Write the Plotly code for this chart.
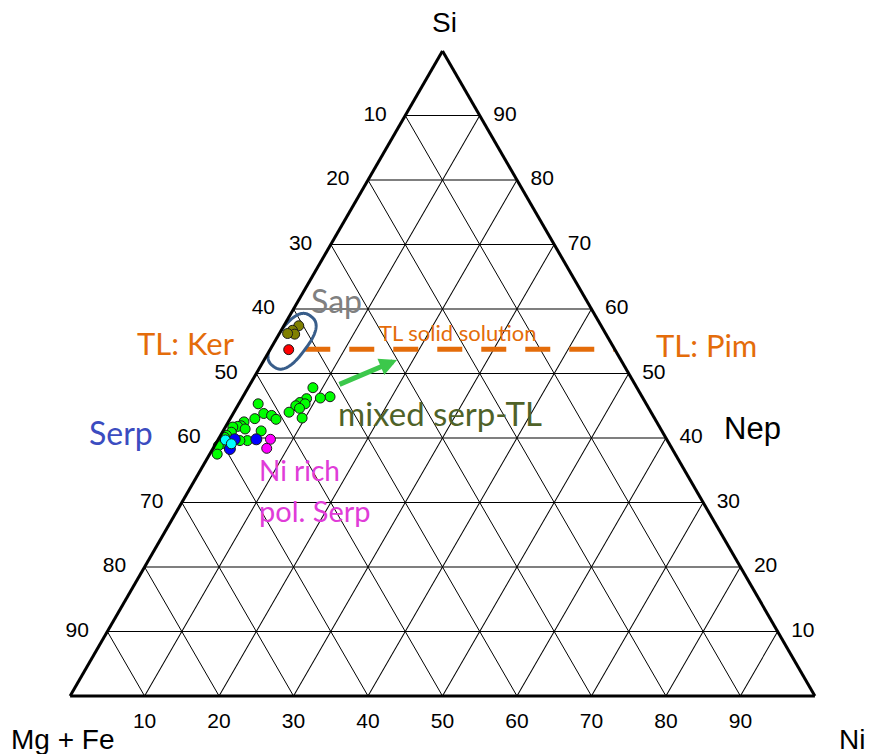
import numpy as np
import plotly.graph_objects as go

# the page body has an 8px margin, so the figure is sized to fill the 875x754 window
W, H = 867, 746
OFF = 8

# ---------------- data (atomic proportions, %; Mg+Fe = 100 - Si - Ni) ----------------
green_si = [47.8, 46.4, 46.2, 46.1, 45.5, 45.3, 45.0, 44.6, 44.0, 43.1, 45.3, 43.8, 43.5, 42.9,
            43.0, 42.5, 41.9, 41.8, 41.4, 41.7, 41.1, 40.9, 40.4, 39.6, 39.6, 39.1, 38.8, 37.5, 40.1]
green_ni = [8.7, 11.7, 10.5, 8.7, 8.1, 8.9, 7.8, 8.5, 7.4, 9.6, 2.6, 4.1, 5.3, 6.2,
            3.3, 2.1, 2.0, 1.6, 2.8, 1.0, 5.1, 1.2, 0.8, 4.0, 3.0, 0.8, 0.5, 1.0, 0.7]
magenta_si = [39.8, 38.4]
magenta_ni = [7.0, 7.2]
blue_si = [39.8, 39.8, 38.3]
blue_ni = [2.2, 5.1, 2.3]
cyan_si = [39.7, 39.1]
cyan_ni = [1.0, 2.1]
sap_si = [57.4, 56.7, 56.1, 56.2]
sap_ni = [2.0, 1.5, 2.1, 1.1]
ker_si = [53.7]
ker_ni = [2.5]

# TL solid solution line (constant Si), from Ni start to the Si-Ni edge
tl_si = 53.75
tl_ni = [4.7, 46.25]

# Sap envelope centre (Si, Ni)
sap_env_si = 55.0
sap_env_ni = 2.3

tick_vals = [10, 20, 30, 40, 50, 60, 70, 80, 90]
tick_text = ['10', '20', '30', '40', '50', '60', '70', '80', '90']


def mgfe(si, ni):
    return [100 - s - n for s, n in zip(si, ni)]


fig = go.Figure()

# dashed TL line
fig.add_trace(go.Scatterternary(
    a=[tl_si, tl_si], c=tl_ni, b=mgfe([tl_si, tl_si], tl_ni), mode='lines',
    line=dict(color='#E46C0A', width=5, dash='25px,19px'), hoverinfo='skip', cliponaxis=False))


# rounded envelope around Sap points
def envelope(si0, ni0, a, b, ang_deg, n=2.6, m=160):
    X0 = ni0 / 100 + si0 / 200
    Y0 = si0 / 100 * np.sqrt(3) / 2
    t = np.linspace(0, 2 * np.pi, m)
    c, s = np.cos(t), np.sin(t)
    u = a * np.sign(c) * np.abs(c) ** (2 / n)
    v = b * np.sign(s) * np.abs(s) ** (2 / n)
    th = np.radians(ang_deg)
    X = X0 + u * np.cos(th) - v * np.sin(th)
    Y = Y0 + u * np.sin(th) + v * np.cos(th)
    si = Y * 2 / np.sqrt(3) * 100
    ni = (X - Y / np.sqrt(3)) * 100
    return si, 100 - si - ni, ni


es, eb, ec = envelope(sap_env_si, sap_env_ni, 0.042, 0.0205, 53)
fig.add_trace(go.Scatterternary(a=es, b=eb, c=ec, mode='lines',
                                line=dict(color='#385D8A', width=3), hoverinfo='skip', cliponaxis=False))


def add_pts(si, ni, color, size):
    fig.add_trace(go.Scatterternary(
        a=si, b=mgfe(si, ni), c=ni, mode='markers', cliponaxis=False, hoverinfo='skip',
        marker=dict(color=color, size=size, line=dict(color='#1a1a1a', width=1))))


add_pts(green_si, green_ni, '#00FF00', 10)
add_pts(magenta_si, magenta_ni, '#FF00FF', 10)
add_pts(blue_si, blue_ni, '#0000FF', 11)
add_pts(cyan_si, cyan_ni, '#00FFFF', 10)
add_pts(sap_si, sap_ni, '#808000', 10)
add_pts(ker_si, ker_ni, '#FF0000', 10)

# edge tick labels (each edge reads the component of the vertex it runs toward)
AR = 'Liberation Sans, Arial'
TF = dict(family=AR, size=21, color='black')


def edge_labels(a, b, c, pos, msize):
    fig.add_trace(go.Scatterternary(
        a=a, b=b, c=c, text=tick_text, mode='markers+text', textposition=pos,
        marker=dict(size=msize, opacity=0), textfont=TF, cliponaxis=False, hoverinfo='skip'))


zeros = [0] * len(tick_vals)
comp = [100 - v for v in tick_vals]
edge_labels(comp, tick_vals, zeros, 'middle left', 28)        # Mg + Fe along left edge
edge_labels(tick_vals, zeros, comp, 'middle right', 20)       # Si along right edge
edge_labels(zeros, comp, tick_vals, 'bottom center', 24)      # Ni along bottom edge

axis_style = dict(
    tickmode='array', tickvals=tick_vals, showticklabels=False, ticks='',
    showline=True, linecolor='black', linewidth=3,
    showgrid=True, gridcolor='black', gridwidth=0.8, min=0,
    title=dict(text=''))


def P(x, y):
    return (x - OFF) / W, 1 - (y - OFF) / H


ann = []


def label(text, x, y, size, color, family='Lato', **kw):
    px, py = P(x, y)
    d = dict(text=text, x=px, y=py, xref='paper', yref='paper', showarrow=False,
             font=dict(family=family, size=size, color=color), xanchor='center', yanchor='middle')
    d.update(kw)
    ann.append(d)


label('Si', 444, 22, 28, 'black', AR)
label('Mg + Fe', 63, 739, 28, 'black', AR)
label('Ni', 852, 739, 28, 'black', AR)
label('Nep', 752, 428, 31, 'black', AR)
label('Sap', 336, 300, 32, '#808080')
label('TL: Ker', 186, 343, 31, '#E46C0A')
label('TL: Pim', 706, 345, 31, '#E46C0A')
label('TL solid solution', 457, 332, 22, '#E46C0A')
label('mixed serp-TL', 440, 413, 33, '#4F6228')
label('Serp', 121, 432, 32, '#3B4CC0')
label('Ni rich', 257, 470, 28, '#E03CD8', xanchor='left')
label('pol. Serp', 257, 510, 29, '#E03CD8', xanchor='left')

hx, hy = P(397, 360)
ann.append(dict(x=hx, y=hy, xref='paper', yref='paper', ax=338 - 397, ay=385 - 360,
                axref='pixel', ayref='pixel', showarrow=True, text='',
                arrowhead=2, arrowsize=0.7, arrowwidth=5, arrowcolor='#3CC84B'))

fig.update_layout(
    width=W, height=H, margin=dict(l=0, r=0, t=0, b=0),
    paper_bgcolor='white', plot_bgcolor='white', showlegend=False,
    ternary=dict(sum=100, bgcolor='white',
                 domain=dict(x=[(70 - OFF) / W, (815 - OFF) / W],
                             y=[(754 - 696) / H, (754 - 51) / H]),
                 aaxis=axis_style, baxis=axis_style, caxis=axis_style),
    annotations=ann)

fig.write_html('out.html')
